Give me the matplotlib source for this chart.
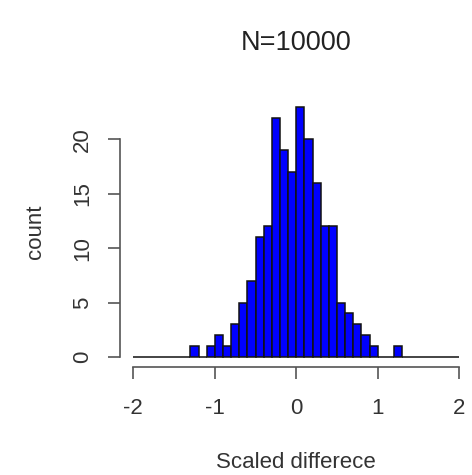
import numpy as np
import matplotlib
matplotlib.use('Agg')
import matplotlib.pyplot as plt

plt.rcParams['font.family'] = ['Liberation Sans', 'DejaVu Sans']

# histogram breaks: -2 to 2 in steps of 0.1
breaks = np.round(np.arange(-2.0, 2.0001, 0.1), 2)
counts = [0, 0, 0, 0, 0, 0, 0,
          1, 0, 1, 2, 1, 3, 5, 7, 11, 12, 22, 19, 17,
          23, 20, 16, 12, 12, 5, 4, 3, 2, 1, 0, 0, 1,
          0, 0, 0, 0, 0, 0, 0]
x_ticks = [-2, -1, 0, 1, 2]
y_ticks = [0, 5, 10, 15, 20]
title = 'N=10000'

text_col = '#333333'
axis_col = '#555555'

fig = plt.figure(figsize=(4.72, 4.75), dpi=100)
ax = fig.add_axes([120.3 / 472, 1 - 367 / 475, 352 / 472, (367 - 96.7) / 475])

ax.bar(breaks[:-1], counts, width=0.1, align='edge',
       color='#0000ff', edgecolor='#111111', linewidth=1.1)

ax.set_xlim(-2.16, 2.16)
ax.set_ylim(-0.92, 23.92)

for s in ['top', 'right']:
    ax.spines[s].set_visible(False)
ax.spines['left'].set_bounds(0, 20)
ax.spines['bottom'].set_bounds(-2, 2)
for s in ['left', 'bottom']:
    ax.spines[s].set_color(axis_col)
    ax.spines[s].set_linewidth(1.2)

ax.set_xticks(x_ticks)
ax.set_xticklabels([str(v) for v in x_ticks])
ax.set_yticks(y_ticks)
ax.set_yticklabels([str(v) for v in y_ticks], rotation=90, va='center')
ax.tick_params(axis='both', length=8.5, width=1.2, color=axis_col,
               labelcolor=text_col, labelsize=16)
ax.tick_params(axis='x', pad=14)
ax.tick_params(axis='y', pad=11)

fig.text(296 / 472, 1 - 42.7 / 475, title, ha='center', va='center',
         fontsize=19.5, color='#222222')
fig.text(296 / 472, 1 - 462 / 475, 'Scaled differece', ha='center', va='center',
         fontsize=16, color=text_col)
fig.text(35 / 472, 1 - 231.7 / 475, 'count', ha='center', va='center',
         rotation=90, fontsize=16, color=text_col)

fig.savefig('out.png', dpi=100)
